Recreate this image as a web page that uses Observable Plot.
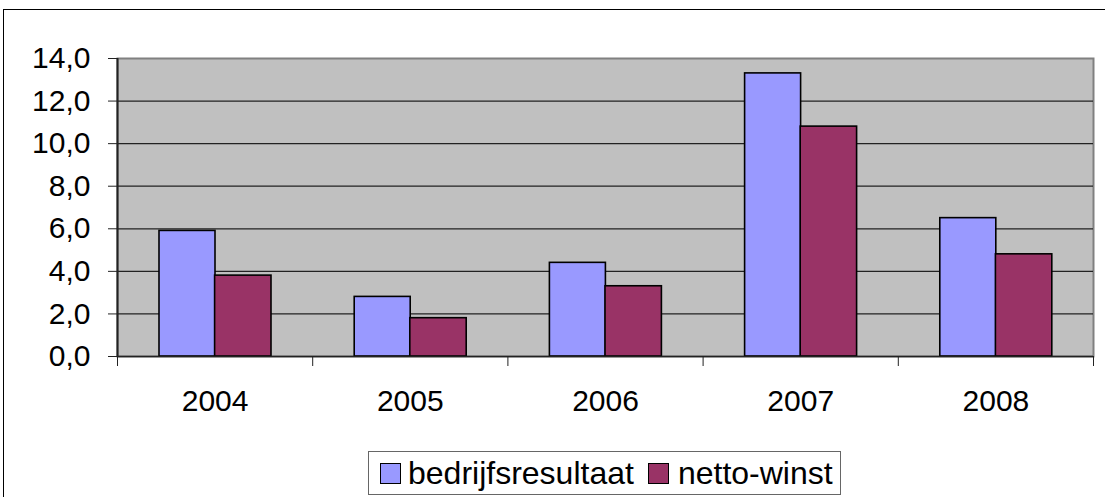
<!DOCTYPE html>
<html><head><meta charset="utf-8">
<script src="https://cdn.jsdelivr.net/npm/d3@7"></script>
<script src="https://cdn.jsdelivr.net/npm/@observablehq/plot@0.6"></script>
<style>
html,body{margin:0;padding:0;background:#fff;width:1105px;height:497px;overflow:hidden;font-family:Arial,"Liberation Sans",sans-serif;}
#frame{position:absolute;left:3px;top:9px;width:1300px;height:700px;border-left:1.5px solid #000;border-top:1.5px solid #000;}
#chart{position:absolute;left:0;top:0;}
#legend{position:absolute;left:368px;top:451px;width:473px;height:44px;border:1px solid #666;box-sizing:border-box;display:flex;align-items:center;font-size:32px;color:#000;white-space:nowrap;}
#legend .item{display:flex;align-items:center;margin-left:11px;}
#legend .sw{width:21px;height:21px;border:1.5px solid #000;box-sizing:border-box;margin-right:7px;}
#legend .item + .item{margin-left:14px;}
#legend .item + .item .sw{margin-right:9px;}
</style></head>
<body>
<div id="frame"></div>
<div id="chart"></div>
<div id="legend"></div>
<script>
const years = ["2004", "2005", "2006", "2007", "2008"];
const bedrijfsresultaat = [5.9, 2.8, 4.4, 13.3, 6.5];
const nettoWinst = [3.8, 1.8, 3.3, 10.8, 4.8];
const seriesNames = ["bedrijfsresultaat", "netto-winst"];
const seriesColors = ["#9999FF", "#993366"];
const yTicks = [0, 2, 4, 6, 8, 10, 12, 14];

const rows = years.map((y, i) => ({year: y, i, b: bedrijfsresultaat[i], n: nettoWinst[i]}));
const boundaries = d3.range(years.length + 1);
const centers = years.map((_, i) => i + 0.5);
const fmt = d3.formatLocale({decimal: ",", thousands: ".", grouping: [3], currency: ["€", ""]}).format(".1f");

const W = 1105, H = 440;
const chart = Plot.plot({
  width: W, height: H,
  marginLeft: 117, marginRight: 12, marginTop: 58, marginBottom: 84,
  style: {fontFamily: "Arial, 'Liberation Sans', sans-serif", fontSize: "30px", color: "#000", background: "transparent", overflow: "visible"},
  x: {type: "linear", domain: [0, years.length], axis: null, label: null},
  y: {domain: [0, 14], axis: null, label: null},
  marks: [
    Plot.frame({fill: "#C0C0C0", stroke: "#808080", strokeWidth: 2}),
    Plot.ruleY(yTicks.filter(t => t > 0 && t < 14), {stroke: "#222", strokeWidth: 1.2}),
    Plot.rectY(rows, {x1: "i", x2: d => d.i + 1, y: "b", fill: seriesColors[0], stroke: "#000", strokeWidth: 1.6, insetLeft: 42, insetRight: 97.2}),
    Plot.rectY(rows, {x1: "i", x2: d => d.i + 1, y: "n", fill: seriesColors[1], stroke: "#000", strokeWidth: 1.6, insetLeft: 97.6, insetRight: 41.2}),
    Plot.ruleX([0], {stroke: "#222", strokeWidth: 2}),
    Plot.ruleY([0], {stroke: "#222", strokeWidth: 1.5}),
    Plot.axisY({ticks: yTicks, tickFormat: fmt, tickSize: 9, tickPadding: 18, stroke: "#222", fontSize: 30, label: null}),
    Plot.axisX({ticks: boundaries, tickFormat: () => "", tickSize: 10, stroke: "#222", label: null}),
    Plot.axisX({ticks: centers, tickFormat: c => years[Math.floor(c)], tickSize: 0, tickPadding: 33, fontSize: 30, label: null})
  ]
});
document.getElementById("chart").appendChild(chart);

const legend = document.getElementById("legend");
seriesNames.forEach((name, k) => {
  const item = document.createElement("div");
  item.className = "item";
  const sw = document.createElement("span");
  sw.className = "sw";
  sw.style.background = seriesColors[k];
  const label = document.createElement("span");
  label.textContent = name;
  item.appendChild(sw);
  item.appendChild(label);
  legend.appendChild(item);
});
</script>
</body></html>
